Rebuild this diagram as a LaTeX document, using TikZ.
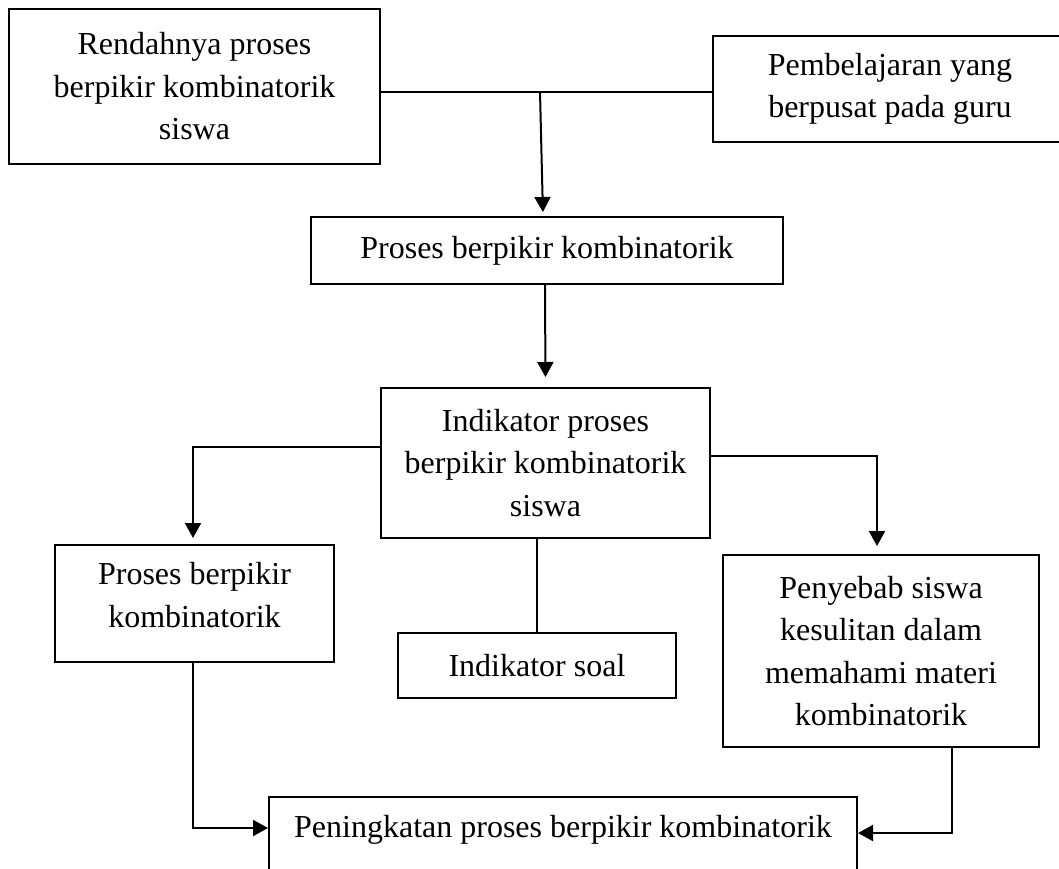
\documentclass[tikz,border=0pt]{standalone}
\usepackage{fontspec}
\setmainfont{Liberation Serif}
\usetikzlibrary{arrows.meta}
\begin{document}
\begin{tikzpicture}[x=1pt,y=-1pt,line width=2pt,
    box/.style={draw,align=center,inner sep=0pt,font=\fontsize{32}{42.5}\selectfont},
    >={Triangle[length=15pt,width=16pt]}]
    \useasboundingbox (0,0) rectangle (1059,868);
    % boxes
    \node[box,minimum width=371,minimum height=155] (rendah) at (194.5,86.5) {Rendahnya proses\\berpikir kombinatorik\\siswa};
    \node[box,minimum width=354,minimum height=106] (pusat) at (890,89) {Pembelajaran yang\\berpusat pada guru};
    \node[box,minimum width=472,minimum height=67] (proses) at (547,250.5) {Proses berpikir kombinatorik};
    \node[box,minimum width=329,minimum height=150] (indik) at (545.5,463) {Indikator proses\\berpikir kombinatorik\\siswa};
    \node[box,minimum width=279,minimum height=117,text depth=17pt] (hasil) at (194.5,603.5) {Proses berpikir\\kombinatorik};
    \node[box,minimum width=278,minimum height=65] (soal) at (537,665.5) {Indikator soal};
    \node[box,minimum width=316,minimum height=192] (sebab) at (881,651) {Penyebab siswa\\kesulitan dalam\\memahami materi\\kombinatorik};
    \node[box,minimum width=588,minimum height=138,text depth=80pt] (naik) at (563,866) {Peningkatan proses berpikir kombinatorik};
    % junctions
    \coordinate (atas) at (540,92);
    \coordinate (kiri) at (193,447);
    \coordinate (kanan) at (877,456);
    \coordinate (bawah) at (193,828);
    \coordinate (bawahkanan) at (952,833);
    % connectors
    \draw (rendah.east |- atas) -- (pusat.west |- atas);
    \draw[->,shorten >=4pt] (atas) -- ([xshift=-4pt]proses.north);
    \draw[->,shorten >=10pt] ([xshift=-2pt]proses.south) -- (indik.north);
    \draw[->,shorten >=6pt] (indik.west |- kiri) -- (kiri) -- (kiri |- hasil.north);
    \draw[->,shorten >=8pt] (indik.east |- kanan) -- (kanan) -- (kanan |- sebab.north);
    \draw (indik.south -| soal.north) -- (soal.north);
    \draw[->] (kiri |- hasil.south) -- (bawah) -- (naik.west |- bawah);
    \draw[->] (sebab.south -| bawahkanan) -- (bawahkanan) -- (naik.east |- bawahkanan);
\end{tikzpicture}
\end{document}
